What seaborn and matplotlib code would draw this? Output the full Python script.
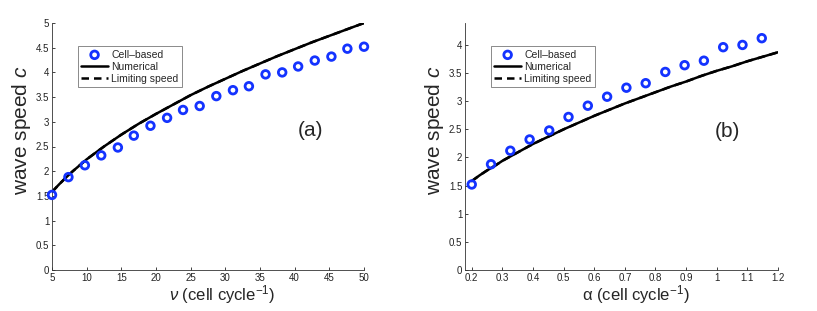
import matplotlib
matplotlib.use("Agg")
import matplotlib.pyplot as plt
import seaborn as sns
import pandas as pd

# ---- data ----
nu_cell = [5.0, 7.37, 9.74, 12.1, 14.5, 16.8, 19.2, 21.6, 23.9, 26.3,
           28.7, 31.1, 33.4, 35.8, 38.2, 40.5, 42.9, 45.3, 47.6, 50.0]
c_cell_a = [1.52, 1.88, 2.12, 2.32, 2.48, 2.72, 2.92, 3.08, 3.24, 3.32,
            3.52, 3.64, 3.72, 3.96, 4.00, 4.12, 4.24, 4.32, 4.48, 4.52]
nu_line = [5, 6, 7, 8, 9, 10, 12.5, 15, 17.5, 20, 22.5, 25, 27.5, 30,
           32.5, 35, 37.5, 40, 42.5, 45, 47.5, 50]
c_num_a = [1.58, 1.73, 1.87, 2.00, 2.12, 2.24, 2.50, 2.74, 2.96, 3.16,
           3.35, 3.54, 3.71, 3.87, 4.03, 4.18, 4.33, 4.47, 4.61, 4.74,
           4.87, 5.00]
c_lim_a = [1.58, 1.73, 1.87, 2.00, 2.12, 2.24, 2.50, 2.74, 2.96, 3.16,
           3.35, 3.54, 3.71, 3.87, 4.03, 4.18, 4.33, 4.47, 4.61, 4.74,
           4.87, 5.00]

alpha_cell = [0.2, 0.263, 0.326, 0.389, 0.453, 0.516, 0.579, 0.642,
              0.705, 0.768, 0.832, 0.895, 0.958, 1.021, 1.084, 1.147]
c_cell_b = [1.52, 1.88, 2.12, 2.32, 2.48, 2.72, 2.92, 3.08,
            3.24, 3.32, 3.52, 3.64, 3.72, 3.96, 4.00, 4.12]
alpha_line = [0.2, 0.225, 0.25, 0.275, 0.3, 0.35, 0.4, 0.45, 0.5, 0.55,
              0.6, 0.65, 0.7, 0.75, 0.8, 0.85, 0.9, 0.95, 1.0, 1.05,
              1.1, 1.15, 1.2]
c_num_b = [1.58, 1.68, 1.77, 1.85, 1.94, 2.09, 2.24, 2.37, 2.50, 2.62,
           2.74, 2.85, 2.96, 3.06, 3.16, 3.26, 3.35, 3.45, 3.54, 3.62,
           3.71, 3.79, 3.87]
c_lim_b = [1.58, 1.68, 1.77, 1.85, 1.94, 2.09, 2.24, 2.37, 2.50, 2.62,
           2.74, 2.85, 2.96, 3.06, 3.16, 3.26, 3.35, 3.45, 3.54, 3.62,
           3.71, 3.79, 3.87]

xticks_a = [5, 10, 15, 20, 25, 30, 35, 40, 45, 50]
yticks_a = ['0', '0.5', '1', '1.5', '2', '2.5', '3', '3.5', '4', '4.5', '5']
xticks_b = ['0.2', '0.3', '0.4', '0.5', '0.6', '0.7', '0.8', '0.9', '1', '1.1', '1.2']
yticks_b = ['0', '0.5', '1', '1.5', '2', '2.5', '3', '3.5', '4']

sns.set_style("ticks")
plt.rcParams['font.family'] = ['Liberation Sans', 'DejaVu Sans']
plt.rcParams['mathtext.fontset'] = 'custom'
plt.rcParams['mathtext.rm'] = 'Liberation Sans'
plt.rcParams['mathtext.it'] = 'Liberation Sans:italic'

fig = plt.figure(figsize=(8.17, 3.11), dpi=100)
axa = fig.add_axes([52/817, 41/311, (364-52)/817, (270-23)/311])
axb = fig.add_axes([465/817, 41/311, (778-465)/817, (270-23)/311])

blue = '#1433ff'

def panel(ax, xc, yc, xl, yn, yl, label, lx, ly):
    dfc = pd.DataFrame({'x': xc, 'y': yc})
    dfl = pd.DataFrame({'x': xl, 'num': yn, 'lim': yl})
    sns.scatterplot(data=dfc, x='x', y='y', ax=ax, marker='o', s=30,
                    facecolors='none', edgecolor=blue, linewidth=2.0,
                    label='Cell\u2013based', zorder=3, clip_on=False)
    sns.lineplot(data=dfl, x='x', y='num', ax=ax, color='black', lw=1.8,
                 label='Numerical')
    sns.lineplot(data=dfl, x='x', y='lim', ax=ax, color='black', lw=1.8,
                 linestyle=(0, (3, 2)), label='Limiting speed')
    for s in ['top', 'right']:
        ax.spines[s].set_visible(False)
    for s in ['left', 'bottom']:
        ax.spines[s].set_linewidth(0.6)
        ax.spines[s].set_color('#333333')
    ax.tick_params(direction='in', length=2.5, width=0.6, labelsize=7,
                   colors='#222222', pad=2)
    ax.set_ylabel('wave speed $c$', fontsize=15)
    ax.yaxis.set_label_coords(-0.062, 0.565)
    ax.text(lx, ly, label, transform=ax.transAxes, fontsize=15,
            ha='center', va='center')
    leg = ax.legend(loc='upper left', bbox_to_anchor=(0.083, 0.905),
                    fontsize=7.5, frameon=True, fancybox=False,
                    borderpad=0.3, labelspacing=0.2, handlelength=2.6,
                    handletextpad=0.3, borderaxespad=0)
    leg.get_frame().set_edgecolor('#555555')
    leg.get_frame().set_linewidth(0.6)

panel(axa, nu_cell, c_cell_a, nu_line, c_num_a, c_lim_a, '(a)', 0.83, 0.563)
axa.set_xlim(5, 50)
axa.set_ylim(0, 5)
axa.set_xticks(xticks_a)
axa.set_yticks([float(t) for t in yticks_a])
axa.set_yticklabels(yticks_a)
axa.set_xlabel(r'$\nu$ (cell cycle$^{\mathregular{-1}}$)', fontsize=12)
axa.xaxis.set_label_coords(0.545, -0.055)

panel(axb, alpha_cell, c_cell_b, alpha_line, c_num_b, c_lim_b, '(b)', 0.837, 0.559)
axb.set_xlim(0.178, 1.2)
axb.set_ylim(0, 4.39)
axb.set_xticks([float(t) for t in xticks_b])
axb.set_xticklabels(xticks_b)
axb.set_yticks([float(t) for t in yticks_b])
axb.set_yticklabels(yticks_b)
axb.set_xlabel('\u03b1 (cell cycle$^{\\mathregular{-1}}$)', fontsize=12)
axb.xaxis.set_label_coords(0.545, -0.055)

fig.savefig('out.png', dpi=100)
